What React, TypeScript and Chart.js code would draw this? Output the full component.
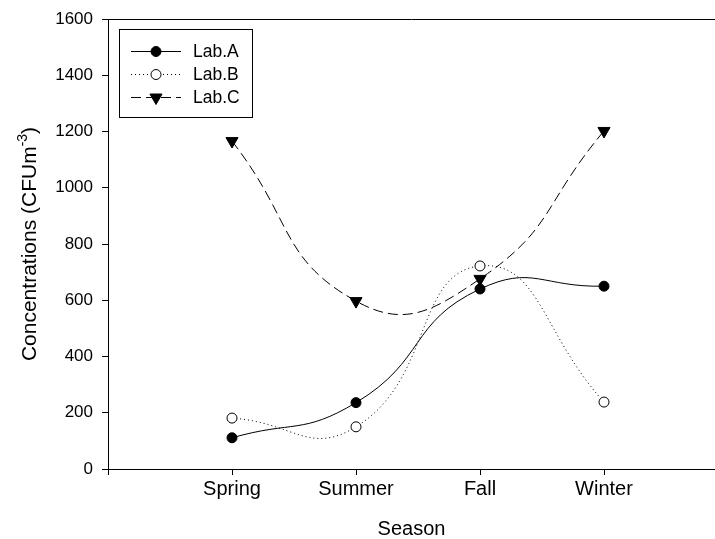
import React, { useEffect, useRef } from 'react';
import { Chart, registerables } from 'chart.js';

Chart.register(...registerables);

const seasons = ['Spring', 'Summer', 'Fall', 'Winter'];
const seriesNames = ['Lab.A', 'Lab.B', 'Lab.C'];
const labA = [111, 236, 640, 650];
const labB = [181, 150, 722, 238];
const labC = [1166, 597, 676, 1202];
const yTickValues = [0, 200, 400, 600, 800, 1000, 1200, 1400, 1600];
const xTickValues = [0, 1, 2, 3, 4];
const yTitle = 'Concentrations (CFUm';
const yTitleSup = '-3';
const xTitle = 'Season';

const FONT = 'Arial, "Liberation Sans", Helvetica, sans-serif';

function drawMarker(ctx: CanvasRenderingContext2D, style: string, filled: boolean, r: number, x: number, y: number) {
  ctx.save();
  ctx.setLineDash([]);
  ctx.lineWidth = 1;
  ctx.strokeStyle = '#000';
  ctx.fillStyle = filled ? '#000' : '#fff';
  ctx.beginPath();
  if (style === 'triangle') {
    const a = Math.PI;
    for (let k = 0; k < 3; k++) {
      const rad = a + (k * 2 * Math.PI) / 3;
      const px = x + Math.sin(rad) * r;
      const py = y - Math.cos(rad) * r;
      if (k === 0) ctx.moveTo(px, py);
      else ctx.lineTo(px, py);
    }
    ctx.closePath();
  } else {
    ctx.arc(x, y, r, 0, Math.PI * 2);
  }
  ctx.fill();
  ctx.stroke();
  ctx.restore();
}

const decorPlugin = {
  id: 'decor',
  afterDraw(chart: any) {
    const { ctx, chartArea } = chart;
    const { left, right, top, bottom } = chartArea;
    ctx.save();
    ctx.strokeStyle = '#000';
    ctx.lineWidth = 1;
    ctx.beginPath();
    ctx.moveTo(left, top + 0.5);
    ctx.lineTo(right, top + 0.5);
    ctx.stroke();

    ctx.fillStyle = '#000';
    ctx.font = `20px ${FONT}`;
    ctx.textAlign = 'center';
    ctx.textBaseline = 'alphabetic';
    ctx.fillText(xTitle, (left + right) / 2, 535);

    const mainFont = `21px ${FONT}`;
    const supFont = `14px ${FONT}`;
    ctx.font = mainFont;
    const w1 = ctx.measureText(yTitle).width;
    const w3 = ctx.measureText(')').width;
    ctx.font = supFont;
    const w2 = ctx.measureText(yTitleSup).width;
    const total = w1 + w2 + w3;
    ctx.translate(36, (top + bottom) / 2);
    ctx.rotate(-Math.PI / 2);
    ctx.textAlign = 'left';
    let x0 = -total / 2;
    ctx.font = mainFont;
    ctx.fillText(yTitle, x0, 0);
    x0 += w1;
    ctx.font = supFont;
    ctx.fillText(yTitleSup, x0, -9);
    x0 += w2;
    ctx.font = mainFont;
    ctx.fillText(')', x0, 0);
    ctx.restore();

    ctx.save();
    const bx = 119.5, by = 29.5, bw = 133, bh = 88;
    ctx.strokeStyle = '#000';
    ctx.lineWidth = 1;
    ctx.strokeRect(bx, by, bw, bh);
    const rows = [51, 74, 97];
    chart.data.datasets.forEach((ds: any, i: number) => {
      const y = rows[i];
      ctx.save();
      ctx.strokeStyle = '#000';
      ctx.lineWidth = 1;
      ctx.setLineDash(ds.borderDash || []);
      ctx.beginPath();
      ctx.moveTo(131, y + 0.5);
      ctx.lineTo(181, y + 0.5);
      ctx.stroke();
      ctx.restore();
      drawMarker(ctx, ds.pointStyle, ds.pointBackgroundColor === '#000', ds.pointRadius, 156, y + 0.5);
      ctx.fillStyle = '#000';
      ctx.font = `17.5px ${FONT}`;
      ctx.textAlign = 'left';
      ctx.textBaseline = 'middle';
      ctx.fillText(ds.label, 193, y + 1);
    });
    ctx.restore();
  },
};

export default function App() {
  const ref = useRef<HTMLCanvasElement>(null);
  useEffect(() => {
    document.body.style.margin = '0';
    const toPts = (arr: number[]) => arr.map((v, i) => ({ x: i + 1, y: v }));
    const chart = new Chart(ref.current as HTMLCanvasElement, {
      type: 'line',
      data: {
        datasets: [
          {
            label: seriesNames[0],
            data: toPts(labA),
            borderColor: '#000',
            borderWidth: 1,
            borderDash: [],
            pointStyle: 'circle',
            pointRadius: 5,
            pointBackgroundColor: '#000',
            pointBorderColor: '#000',
            pointBorderWidth: 1,
            tension: 0.5,
          },
          {
            label: seriesNames[1],
            data: toPts(labB),
            borderColor: '#000',
            borderWidth: 1,
            borderDash: [1, 3],
            pointStyle: 'circle',
            pointRadius: 5,
            pointBackgroundColor: '#fff',
            pointBorderColor: '#000',
            pointBorderWidth: 1,
            tension: 0.5,
          },
          {
            label: seriesNames[2],
            data: toPts(labC),
            borderColor: '#000',
            borderWidth: 1,
            borderDash: [10, 5],
            pointStyle: 'triangle',
            pointRotation: 180,
            pointRadius: 7,
            pointBackgroundColor: '#000',
            pointBorderColor: '#000',
            pointBorderWidth: 1,
            tension: 0.5,
          },
        ] as any,
      },
      options: {
        responsive: false,
        animation: false,
        devicePixelRatio: 1,
        layout: { autoPadding: false, padding: { top: 19, left: 0, right: 0, bottom: 0 } },
        plugins: { legend: { display: false }, tooltip: { enabled: false } },
        scales: {
          x: {
            type: 'linear',
            min: 0,
            max: (715 - 108) / 124,
            afterBuildTicks: (s: any) => {
              s.ticks = xTickValues.map((v) => ({ value: v }));
            },
            afterFit: (s: any) => {
              s.height = 70;
              s.paddingLeft = 0;
              s.paddingRight = 0;
            },
            ticks: {
              callback: (v: any) => seasons[Number(v) - 1] ?? '',
              font: { size: 20, family: FONT },
              color: '#000',
              padding: 2,
              maxRotation: 0,
              autoSkip: false,
            },
            grid: { drawOnChartArea: false, drawTicks: true, tickLength: 6, color: '#000' },
            border: { display: true, color: '#000', width: 1 },
          },
          y: {
            type: 'linear',
            min: 0,
            max: 1600,
            afterBuildTicks: (s: any) => {
              s.ticks = yTickValues.map((v) => ({ value: v }));
            },
            afterFit: (s: any) => {
              s.width = 108;
              s.paddingTop = 0;
              s.paddingBottom = 0;
            },
            ticks: {
              callback: (v: any) => String(v),
              font: { size: 17, family: FONT },
              color: '#000',
              padding: 9,
            },
            grid: { drawOnChartArea: false, drawTicks: true, tickLength: 6, color: '#000' },
            border: { display: true, color: '#000', width: 1 },
          },
        },
      },
      plugins: [decorPlugin],
    });
    return () => chart.destroy();
  }, []);
  return <canvas ref={ref} width={715} height={539} style={{ display: 'block' }} />;
}
